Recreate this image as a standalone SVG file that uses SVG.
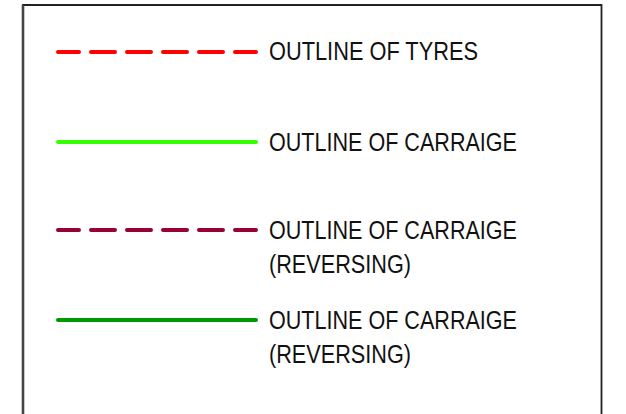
<svg xmlns="http://www.w3.org/2000/svg" width="626" height="414" viewBox="0 0 626 414">
<style>
.t{font-family:"Liberation Sans",Arial,sans-serif;font-size:25px;fill:#111;}
.ln{stroke-width:4;stroke-linecap:round;fill:none;}
.d{stroke-dasharray:21 12 24 12 24 12 24 12 24 12 21 200;}
</style>
<rect x="0" y="0" width="626" height="414" fill="#fff"/>
<path d="M23,420 V5 H601.5 V420" fill="none" stroke="#222" stroke-width="1.8"/>
<line x1="23" y1="5" x2="23" y2="420" stroke="#444" stroke-width="2.6"/>
<g id="connectors">
<line class="ln d" x1="58" y1="52" x2="256" y2="52" stroke="#ff0000"/>
<line class="ln" x1="58" y1="142" x2="256" y2="142" stroke="#33ff00"/>
<line class="ln d" x1="58" y1="230" x2="256" y2="230" stroke="#990033"/>
<line class="ln" x1="58" y1="320" x2="256" y2="320" stroke="#009900"/>
</g>
<g id="legend1"><text class="t" x="269" y="60" textLength="209" lengthAdjust="spacingAndGlyphs">OUTLINE OF TYRES</text></g>
<g id="legend2"><text class="t" x="269" y="151" textLength="248" lengthAdjust="spacingAndGlyphs">OUTLINE OF CARRAIGE</text></g>
<g id="legend3"><text class="t" x="269" y="239" textLength="248" lengthAdjust="spacingAndGlyphs">OUTLINE OF CARRAIGE</text><text class="t" x="269" y="273" textLength="142" lengthAdjust="spacingAndGlyphs">(REVERSING)</text></g>
<g id="legend4"><text class="t" x="269" y="329" textLength="248" lengthAdjust="spacingAndGlyphs">OUTLINE OF CARRAIGE</text><text class="t" x="269" y="363" textLength="142" lengthAdjust="spacingAndGlyphs">(REVERSING)</text></g>
</svg>
